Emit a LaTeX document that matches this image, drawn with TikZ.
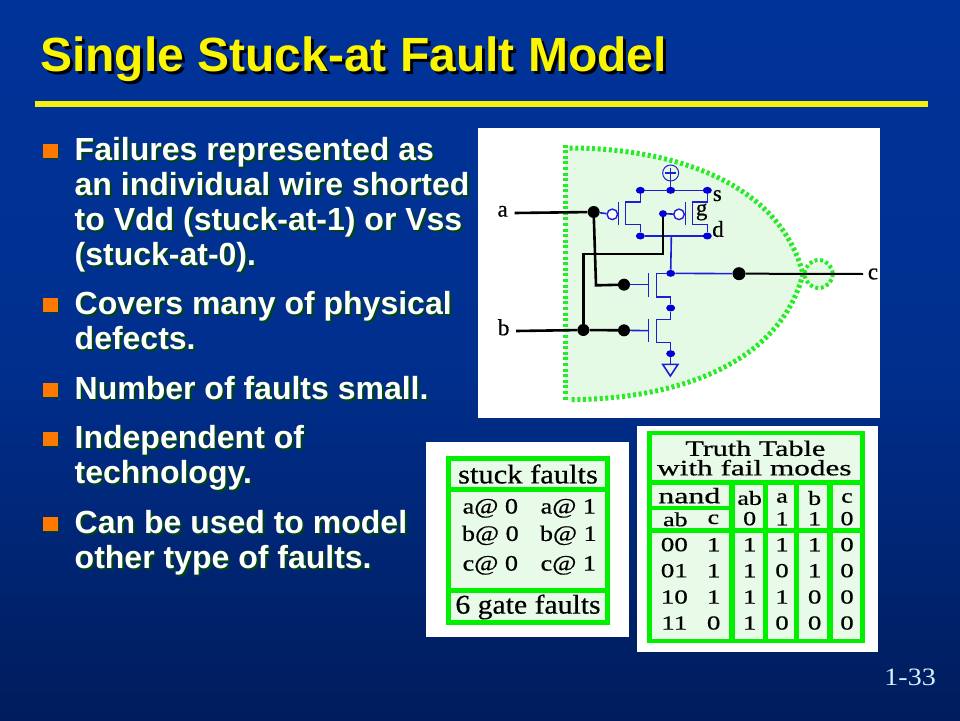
\documentclass[tikz,border=0pt]{standalone}
\usetikzlibrary{shapes.geometric}
\usepackage{graphicx}
\usepackage{fontspec}
\setmainfont{Liberation Sans}
\newfontfamily\serifface[FakeBold=0.5]{Liberation Serif}
\newfontfamily\pageface{Liberation Serif}
\definecolor{bgtop}{RGB}{0,51,153}
\definecolor{bgbot}{RGB}{0,28,92}
\definecolor{rulecol}{RGB}{246,240,16}
\definecolor{titlecol}{RGB}{250,245,0}
\definecolor{bulcol}{RGB}{255,120,0}
\definecolor{shadegreen}{RGB}{0,70,20}
\definecolor{gatefill}{RGB}{229,250,229}
\definecolor{gategreen}{RGB}{40,235,40}
\definecolor{tabgreen}{RGB}{0,240,0}
\definecolor{cellfill}{RGB}{232,250,232}
\definecolor{wireblue}{RGB}{30,30,215}
\definecolor{pagecol}{RGB}{215,240,250}
\newcommand{\stx}[2]{\scalebox{#1}[1]{#2}}
\tikzset{
  bodytext/.style={anchor=base west,inner sep=0pt,text=white,font=\fontsize{32}{34}\selectfont\bfseries},
  bodyshade/.style={anchor=base west,inner sep=0pt,text=shadegreen,font=\fontsize{32}{34}\selectfont\bfseries},
  titletext/.style={anchor=base west,inner sep=0pt,font=\fontsize{48}{50}\selectfont\bfseries},
  bdot/.style={circle,fill=black,inner sep=0pt,minimum size=#1},
  udot/.style={ellipse,fill=blue!85!black,inner sep=0pt,minimum width=9pt,minimum height=7pt},
  bubble/.style={circle,draw=wireblue,fill=white,line width=1.4pt,inner sep=0pt,minimum size=10.5pt},
  wireb/.style={line width=2.6pt,black},
  wireu/.style={line width=1.6pt,wireblue},
  greendash/.style={gategreen,line width=5pt,dash pattern=on 3pt off 2.6pt},
  lab/.style={inner sep=0pt,font=\serifface\fontsize{23}{23}\selectfont},
  celltxt/.style={inner sep=0pt,font=\serifface\fontsize{22}{22}\selectfont},
  headtxt/.style={inner sep=0pt,font=\serifface\fontsize{27}{27}\selectfont},
  tabhead/.style={inner sep=0pt,font=\serifface\fontsize{22}{22}\selectfont},
  tabtxt/.style={inner sep=0pt,font=\serifface\fontsize{20}{20}\selectfont},
  cellbox/.style={fill=cellfill,draw=none},
}
\newcounter{ln}
\newcommand{\bodyline}[3]{%
  \stepcounter{ln}%
  \node[bodyshade] (s\theln) at (#1+2,#2+2) {#3};
  \node[bodytext] (t\theln) at (#1,#2) {#3};
}
\newcommand{\bul}[1]{%
  \fill[shadegreen] (44,#1-12) rectangle (59,#1+1);
  \fill[bulcol] (43,#1-14) rectangle (57.5,#1);
}
\begin{document}
\begin{tikzpicture}[x=1pt,y=-1pt]
\useasboundingbox (0,0) rectangle (960,720);
\shade[top color=bgtop,bottom color=bgbot,middle color=bgtop!82!bgbot] (0,0) rectangle (960,720);
% title
\node[titletext,text=black] (titleshade) at (43,74) {Single Stuck-at Fault Model};
\node[titletext,text=titlecol] (title) at (40,71) {Single Stuck-at Fault Model};
\fill[rulecol] (35,100.7) rectangle (928,107);
% bullets
\bul{158}\bul{312}\bul{397}\bul{446}\bul{531}
\bodyline{74.5}{160}{Failures represented as}
\bodyline{74.5}{195}{an individual wire shorted}
\bodyline{74.5}{230}{to Vdd (stuck-at-1) or Vss}
\bodyline{74.5}{265}{(stuck-at-0).}
\bodyline{74.5}{314}{Covers many of physical}
\bodyline{74.5}{349}{defects.}
\bodyline{74.5}{399}{Number of faults small.}
\bodyline{74.5}{448}{Independent of}
\bodyline{74.5}{483}{technology.}
\bodyline{74.5}{533}{Can be used to model}
\bodyline{74.5}{568}{other type of faults.}
\node[anchor=base east,inner sep=0pt,text=pagecol,font=\pageface\fontsize{25}{25}\selectfont] (pg) at (936,685) {\stx{1.12}{1-33}};
% gate panel
\begin{scope}[shift={(478pt,-128pt)},x=0.33333pt,y=-0.33333pt]
\fill[white] (0,0) rectangle (1206,870);
\fill[gatefill] (261,60) .. controls (560,60) and (900,150) .. (975,438) .. controls (900,726) and (560,815) .. (261,815) -- cycle;
\draw[greendash] (261,50) -- (261,822);
\draw[greendash] (275,60) .. controls (560,60) and (900,150) .. (975,438) .. controls (900,726) and (560,815) .. (275,815);
\draw[greendash,line width=4pt,fill=gatefill] (1022,438) circle (42);
% coordinates
\coordinate (ain) at (110,255);
\coordinate (bin) at (114,609);
\coordinate (cout) at (1155,438);
\node[bdot=12pt] (da) at (347,252) {};
\node[bdot=12pt] (db) at (316,606) {};
\node[bdot=12pt] (dg1) at (438,470) {};
\node[bdot=12pt] (dg2) at (438,607) {};
\node[bdot=13pt] (dc) at (783,437) {};
\node[udot,minimum width=8pt] (dgp) at (555,257) {};
\node[udot] (s1) at (487,187) {};
\node[udot] (sm) at (578,187) {};
\node[udot] (s2) at (688,187) {};
\node[udot] (d1) at (487,324) {};
\node[udot] (d2) at (688,324) {};
\node[udot] (nout) at (578,436) {};
\node[udot] (nmid) at (578,540) {};
\node[udot] (ngnd) at (578,677) {};
\node[bubble] (bub1) at (403,259) {};
\node[bubble] (bub2) at (603,259) {};
\node[circle,draw=wireblue,line width=1pt,inner sep=0pt,minimum size=16pt] (vdd) at (578,135) {};
\draw[wireu] (vdd.center) ++(-16,0) -- ++(32,0);
\draw[wireu] (vdd.center) ++(0,-16) -- (sm);
% blue wiring
\draw[wireu] (s1) -- (sm) -- (s2);
\draw[wireu] (d1) -- (d2);
\draw[wireu] (s1) |- (443,222) -- (443,290) -| (d1);
\draw[wireu] (s2) |- (643,222) -- (643,290) -| (d2);
\draw[wireu] (da) -- (bub1);
\draw[wireu] (dgp) -- (bub2);
\draw[wireu] (421,222) -- (421,290);
\draw[wireu] (622,222) -- (622,290);
\draw[wireu] (580,324) -- (nout);
\draw[wireu] (nout) -- (dc);
\draw[wireu] (nout) -- (536,436) -- (536,507) -| (nmid);
\draw[wireu] (512,435) -- (512,507);
\draw[wireu] (dg1) -- (512,470);
\draw[wireu] (nmid) -- (578,574) -- (536,574) -- (536,643) -| (ngnd);
\draw[wireu] (512,574) -- (512,643);
\draw[wireu] (dg2) -- (512,608);
\draw[wireu] (ngnd) -- (578,708);
\draw[wireu] (554,709) -- (600,709) -- (577,744) -- cycle;
% black wiring
\draw[wireb] (ain) -- (da);
\draw[wireb] (bin) -- (db) -- (dg2);
\draw[wireb] (da) -- (354,472) -- (dg1);
\draw[wireb] (db) -- (316,378) -- (555,378) -- (dgp);
\draw[wireb,line width=2pt] (dc) -- (cout);
% labels
\node[lab] (la) at (74,250) {a};
\node[lab] (lb) at (77,598) {b};
\node[lab] (lc) at (1185,438) {c};
\node[lab] (ls) at (718,203) {s};
\node[lab] (lg) at (671,252) {g};
\node[lab] (ld) at (720,303) {d};
\end{scope}
% stuck faults panel
\begin{scope}[shift={(426pt,-426pt)},x=0.33333pt,y=-0.33333pt]
\fill[white] (0,48) rectangle (608,632);
\fill[tabgreen] (60,90) rectangle (552,596);
\fill[cellbox] (75,105) rectangle (537,182);
\fill[cellbox] (75,198) rectangle (537,485);
\fill[cellbox] (75,502) rectangle (537,582);
\node[headtxt] (sf) at (306,144) {\stx{1.13}{stuck faults}};
\node[celltxt] (a0) at (193,247) {\stx{1.19}{a@ 0}};
\node[celltxt] (a1) at (427,247) {\stx{1.19}{a@ 1}};
\node[celltxt] (b0) at (193,328) {\stx{1.19}{b@ 0}};
\node[celltxt] (b1) at (427,328) {\stx{1.19}{b@ 1}};
\node[celltxt] (c0) at (193,418) {\stx{1.19}{c@ 0}};
\node[celltxt] (c1) at (427,418) {\stx{1.19}{c@ 1}};
\node[headtxt] (gf) at (306,543) {\stx{1.1}{6 gate faults}};
\end{scope}
% truth table panel
\begin{scope}[shift={(636pt,-426pt)},x=0.33333pt,y=-0.33333pt]
\fill[white] (3,0) rectangle (726,678);
\fill[tabgreen] (33,14) rectangle (688,650);
\fill[cellbox] (47,28) rectangle (672,162);
\fill[cellbox] (47,178) rectangle (280,240);
\fill[cellbox] (47,252) rectangle (280,306);
\foreach \xa/\xb in {296/380,395/475,490/573,590/672}{\fill[cellbox] (\xa,178) rectangle (\xb,306);}
\fill[cellbox] (47,322) rectangle (280,640);
\foreach \xa/\xb in {296/380,395/475,490/573,590/672}{\fill[cellbox] (\xa,322) rectangle (\xb,640);}
\node[tabhead] (tt1) at (358,67) {\stx{1.37}{Truth Table}};
\node[tabhead] (tt2) at (355,125) {\stx{1.42}{with fail modes}};
\node[tabhead] (nand) at (160,209) {\stx{1.45}{nand}};
\node[tabtxt] (hab) at (118,280) {\stx{1.3}{ab}};
\node[tabtxt] (hc) at (232,280) {\stx{1.3}{c}};
\foreach \nm/\xx/\hup/\hlo in {A/341/ab/0,B/438/a/1,C/536/b/1,D/633/c/0}{
  \node[tabtxt] (h\nm1) at (\xx,216) {\stx{1.3}{\hup}};
  \node[tabtxt] (h\nm2) at (\xx,278) {\stx{1.3}{\hlo}};
}
\foreach \rw/\yy/\va/\vb/\vc/\vd/\ve/\vf in {1/356/00/1/1/1/1/0,2/434/01/1/1/0/1/0,3/513/10/1/1/1/0/0,4/591/11/0/1/0/0/0}{
  \node[tabtxt] (r\rw a) at (115,\yy) {\stx{1.35}{\va}};
  \node[tabtxt] (r\rw b) at (233,\yy) {\stx{1.35}{\vb}};
  \node[tabtxt] (r\rw c) at (341,\yy) {\stx{1.35}{\vc}};
  \node[tabtxt] (r\rw d) at (438,\yy) {\stx{1.35}{\vd}};
  \node[tabtxt] (r\rw e) at (536,\yy) {\stx{1.35}{\ve}};
  \node[tabtxt] (r\rw f) at (633,\yy) {\stx{1.35}{\vf}};
}
\end{scope}
\end{tikzpicture}
\end{document}
